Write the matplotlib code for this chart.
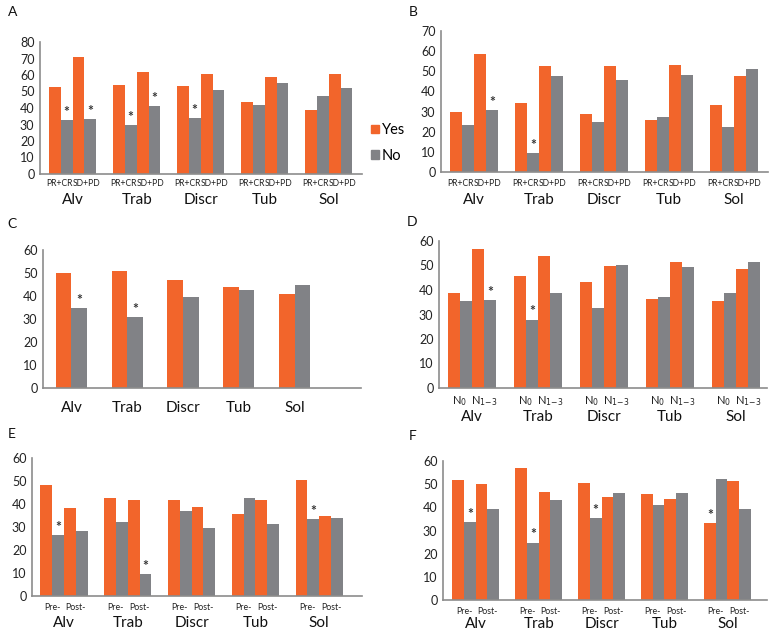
import matplotlib.pyplot as plt
import numpy as np

plt.rcParams['font.family'] = ['Lato', 'DejaVu Sans']

categories = ['Alv', 'Trab', 'Discr', 'Tub', 'Sol']

# panel A (PR+CR / SD+PD)
a_yes1 = [53, 54, 53.5, 43.5, 38.5]
a_no1 = [33, 29.5, 34, 42, 47.5]
a_yes2 = [71, 62, 60.5, 59, 60.5]
a_no2 = [33.5, 41, 51, 55, 52]

# panel B (PR+CR / SD+PD)
b_yes1 = [29.7, 34.1, 28.7, 25.9, 33.1]
b_no1 = [23.2, 9.2, 24.9, 27.5, 22.2]
b_yes2 = [58.5, 52.7, 52.7, 53, 47.9]
b_no2 = [30.6, 47.6, 45.5, 48.1, 51.2]

# panel C
c_yes = [50, 51, 47, 44, 41]
c_no = [34.7, 30.7, 39.7, 42.7, 44.9]

# panel D (N0 / N1-3)
d_yes1 = [38.6, 45.7, 43.1, 36.3, 35.6]
d_no1 = [35.5, 27.9, 32.5, 37, 38.6]
d_yes2 = [56.9, 53.9, 49.6, 51.5, 48.6]
d_no2 = [36, 38.9, 50.4, 49.3, 51.4]

# panel E (Pre- / Post-)
e_yes1 = [48.4, 42.6, 41.6, 35.6, 50.3]
e_no1 = [26.5, 32, 37, 42.5, 33.3]
e_yes2 = [38.3, 41.6, 38.9, 41.9, 34.6]
e_no2 = [28.2, 9.5, 29.6, 31.4, 34.1]

# panel F (Pre- / Post-)
f_yes1 = [51.7, 57.1, 50.7, 45.8, 33.3]
f_no1 = [33.6, 24.8, 35.3, 41, 52.4]
f_yes2 = [50.2, 46.5, 44.5, 43.5, 51.4]
f_no2 = [39.3, 43.2, 46.4, 46.4, 39.2]

ORANGE = '#F2652B'
GRAY = '#818286'
SPINE = '#8c8c8c'

W, H = 781, 641
fig = plt.figure(figsize=(W / 100, H / 100), dpi=100)


def make_ax(left, right, top, bottom):
    ax = fig.add_axes([left / W, 1 - bottom / H, (right - left) / W, (bottom - top) / H])
    for s in ['top', 'right']:
        ax.spines[s].set_visible(False)
    for s in ['left', 'bottom']:
        ax.spines[s].set_color(SPINE)
        ax.spines[s].set_linewidth(1.2)
    ax.tick_params(length=0, labelsize=9, pad=4, colors='#222222')
    return ax


def star(ax, x, h, ymax):
    ax.text(x, h + ymax * 0.015, '*', ha='center', va='bottom', fontsize=10,
            color='#333333', fontweight='bold')


def four_panel(ax, vals, sub, ymax, xlim, stars, sub_off, name_off, sub_size, joined=False):
    x = np.arange(len(categories))
    w = 0.185
    offs = [-1.5 * w, -0.5 * w, 0.5 * w, 1.5 * w]
    cols = [ORANGE, GRAY, ORANGE, GRAY]
    for v, o, c in zip(vals, offs, cols):
        ax.bar(x + o, v, width=w, color=c, linewidth=0)
    for g, k in stars:
        star(ax, x[g] + offs[k], vals[k][g], ymax)
    ax.set_ylim(0, ymax)
    ax.set_yticks(np.arange(0, ymax + 1, 10))
    ax.set_xlim(*xlim)
    ax.set_xticks([])
    trans = ax.get_xaxis_transform()
    for g in x:
        if joined:
            # labels sit edge to edge, as in the original
            ax.text(g, -sub_off, sub[0], transform=trans, ha='right', va='center',
                    fontsize=sub_size, color='#222222')
            ax.text(g, -sub_off, sub[1], transform=trans, ha='left', va='center',
                    fontsize=sub_size, color='#222222')
        else:
            ax.text(g - w, -sub_off, sub[0], transform=trans, ha='center', va='center',
                    fontsize=sub_size, color='#222222')
            ax.text(g + w, -sub_off, sub[1], transform=trans, ha='center', va='center',
                    fontsize=sub_size, color='#222222')
        ax.text(g, -name_off, categories[g], transform=trans, ha='center', va='center',
                fontsize=11, color='#111111')


# A
axA = make_ax(40, 362, 42, 174)
four_panel(axA, [a_yes1, a_no1, a_yes2, a_no2], ['PR+CR', 'SD+PD'], 80, (-0.51, 4.52),
           [(0, 1), (0, 3), (1, 1), (1, 3), (2, 1)], 9 / 132, 26 / 132, 6.2, joined=True)

# B
axB = make_ax(441, 768, 31, 172)
four_panel(axB, [b_yes1, b_no1, b_yes2, b_no2], ['PR+CR', 'SD+PD'], 70, (-0.51, 4.52),
           [(0, 3), (1, 1)], 11 / 141, 28 / 141, 6.2, joined=True)

# C
axC = make_ax(43, 361, 250, 388)
xc = np.arange(len(categories))
wc = 0.28
axC.bar(xc - wc / 2, c_yes, width=wc, color=ORANGE, linewidth=0)
axC.bar(xc + wc / 2, c_no, width=wc, color=GRAY, linewidth=0)
for g in [0, 1]:
    star(axC, xc[g] + wc / 2, c_no[g], 60)
axC.set_ylim(0, 60)
axC.set_yticks(np.arange(0, 61, 10))
axC.set_xlim(-0.51, 5.19)
axC.set_xticks(xc)
axC.set_xticklabels(categories, fontsize=11, color='#111111')
axC.tick_params(axis='x', pad=9)

# D
axD = make_ax(439, 767, 241, 388)
four_panel(axD, [d_yes1, d_no1, d_yes2, d_no2], ['N$_0$', 'N$_{1{-}3}$'], 60, (-0.5, 4.47),
           [(0, 3), (1, 1)], 13 / 147, 29 / 147, 8)

# E
axE = make_ax(32, 362, 458, 596)
four_panel(axE, [e_yes1, e_no1, e_yes2, e_no2], ['Pre-', 'Post-'], 60, (-0.5, 4.67),
           [(0, 1), (1, 3), (4, 1)], 11 / 138, 27 / 138, 6.3)

# F
axF = make_ax(443, 767, 461, 600)
four_panel(axF, [f_yes1, f_no1, f_yes2, f_no2], ['Pre-', 'Post-'], 60, (-0.52, 4.63),
           [(0, 1), (1, 1), (2, 1), (4, 0)], 11 / 139, 24 / 139, 6.3)

# panel letters
for lab, (px, py) in zip('ABCDEF', [(13, 12), (413, 12), (12, 224), (412, 222), (12, 434), (413, 436)]):
    fig.text(px / W, 1 - py / H, lab, ha='center', va='center', fontsize=10, color='#111111')

# legend
hY = plt.Rectangle((0, 0), 1, 1, color=ORANGE)
hN = plt.Rectangle((0, 0), 1, 1, color=GRAY)
fig.legend([hY, hN], ['Yes', 'No'], loc='center left', bbox_to_anchor=(364 / W, 1 - 143 / H),
           frameon=False, fontsize=10.5, handlelength=0.55, handleheight=0.55,
           handletextpad=0.15, labelspacing=0.8, borderpad=0)

fig.savefig('out.png', dpi=100)
